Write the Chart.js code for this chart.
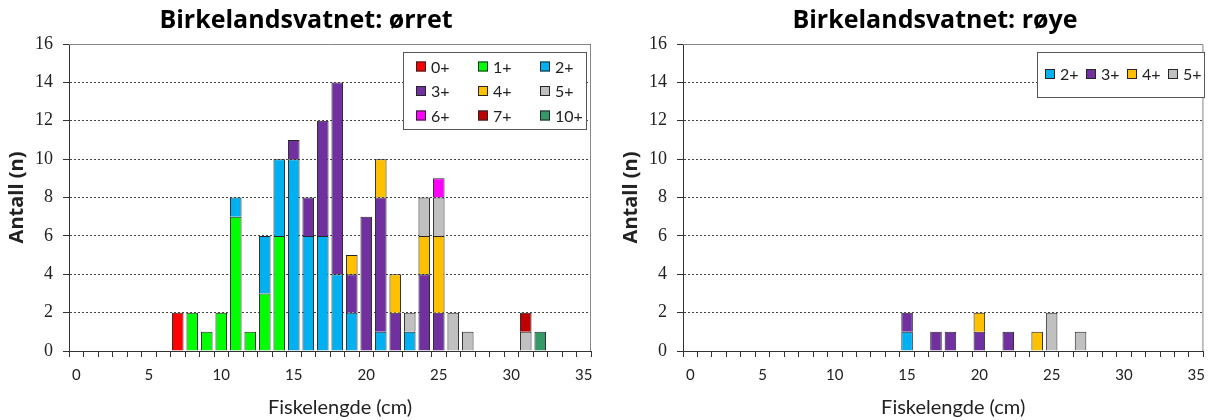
<!DOCTYPE html>
<html>
<head>
<meta charset="utf-8">
<script src="https://cdn.jsdelivr.net/npm/chart.js@4"></script>
<style>
  body { margin: 0; background: #fff; }
  #wrap { position: relative; width: 1214px; height: 420px; }
  canvas { position: absolute; top: 0; }
</style>
</head>
<body>
<div id="wrap">
  <canvas id="trout" width="607" height="420" style="left:0"></canvas>
  <canvas id="charr" width="600" height="420" style="left:614px"></canvas>
</div>
<script>
// length classes (cm) on the x axis
var lengths = [0, 1, 2, 3, 4, 5, 6, 7, 8, 9, 10, 11, 12, 13, 14, 15, 16, 17, 18, 19,
  20, 21, 22, 23, 24, 25, 26, 27, 28, 29, 30, 31, 32, 33, 34, 35];

// trout (ørret), count per length class for each age group
var troutAge0 = [0,0,0,0,0,0,0,2,0,0, 0,0,0,0,0,0,0,0,0,0, 0,0,0,0,0,0,0,0,0,0, 0,0,0,0,0,0];
var troutAge1 = [0,0,0,0,0,0,0,0,2,1, 2,7,1,3,6,0,0,0,0,0, 0,0,0,0,0,0,0,0,0,0, 0,0,0,0,0,0];
var troutAge2 = [0,0,0,0,0,0,0,0,0,0, 0,1,0,3,4,10,6,6,4,2, 0,1,0,1,0,0,0,0,0,0, 0,0,0,0,0,0];
var troutAge3 = [0,0,0,0,0,0,0,0,0,0, 0,0,0,0,0,1,2,6,10,2, 7,7,2,0,4,2,0,0,0,0, 0,0,0,0,0,0];
var troutAge4 = [0,0,0,0,0,0,0,0,0,0, 0,0,0,0,0,0,0,0,0,1, 0,2,2,0,2,4,0,0,0,0, 0,0,0,0,0,0];
var troutAge5 = [0,0,0,0,0,0,0,0,0,0, 0,0,0,0,0,0,0,0,0,0, 0,0,0,1,2,2,2,1,0,0, 0,1,0,0,0,0];
var troutAge6 = [0,0,0,0,0,0,0,0,0,0, 0,0,0,0,0,0,0,0,0,0, 0,0,0,0,0,1,0,0,0,0, 0,0,0,0,0,0];
var troutAge7 = [0,0,0,0,0,0,0,0,0,0, 0,0,0,0,0,0,0,0,0,0, 0,0,0,0,0,0,0,0,0,0, 0,1,0,0,0,0];
var troutAge10 = [0,0,0,0,0,0,0,0,0,0, 0,0,0,0,0,0,0,0,0,0, 0,0,0,0,0,0,0,0,0,0, 0,0,1,0,0,0];

// arctic charr (røye)
var charrAge2 = [0,0,0,0,0,0,0,0,0,0, 0,0,0,0,0,1,0,0,0,0, 0,0,0,0,0,0,0,0,0,0, 0,0,0,0,0,0];
var charrAge3 = [0,0,0,0,0,0,0,0,0,0, 0,0,0,0,0,1,0,1,1,0, 1,0,1,0,0,0,0,0,0,0, 0,0,0,0,0,0];
var charrAge4 = [0,0,0,0,0,0,0,0,0,0, 0,0,0,0,0,0,0,0,0,0, 1,0,0,0,1,0,0,0,0,0, 0,0,0,0,0,0];
var charrAge5 = [0,0,0,0,0,0,0,0,0,0, 0,0,0,0,0,0,0,0,0,0, 0,0,0,0,0,2,0,1,0,0, 0,0,0,0,0,0];

var ageColors = {
  '0+': '#ff0000', '1+': '#00ff00', '2+': '#00b0f0', '3+': '#7030a0', '4+': '#ffc000',
  '5+': '#c0c0c0', '6+': '#ff00ff', '7+': '#c00000', '10+': '#339966'
};

// draws the excel-like frame, the titles and the boxed legend
var excelFrame = {
  id: 'excelFrame',
  beforeDraw: function(chart) {
    var ctx = chart.ctx;
    ctx.save();
    ctx.fillStyle = '#fff';
    ctx.fillRect(0, 0, chart.width, chart.height);
    ctx.restore();
  },
  afterDraw: function(chart, args, opts) {
    var ctx = chart.ctx, a = chart.chartArea;
    ctx.save();
    ctx.strokeStyle = '#868686';
    ctx.lineWidth = 1;
    ctx.beginPath();
    ctx.moveTo(a.left, a.top + 0.5);
    ctx.lineTo(a.right - 0.5, a.top + 0.5);
    ctx.lineTo(a.right - 0.5, a.bottom);
    ctx.stroke();

    ctx.fillStyle = '#000';
    ctx.font = 'bold 25px "Open Sans"';
    ctx.textAlign = 'center';
    ctx.textBaseline = 'alphabetic';
    ctx.fillText(opts.title, opts.titleX, opts.titleY);

    // x axis title, sits a bit right of the axis centre in the original
    ctx.fillStyle = '#222';
    ctx.font = '20px Lato';
    ctx.textBaseline = 'middle';
    ctx.fillText('Fiskelengde (cm)', a.left + (a.right - a.left) / 2 + 10, 408);

    var lg = opts.legend;
    ctx.fillStyle = '#fff';
    ctx.fillRect(lg.x, lg.y, lg.w, lg.h);
    ctx.strokeStyle = '#555';
    ctx.strokeRect(lg.x + 0.5, lg.y + 0.5, lg.w, lg.h);
    ctx.font = '16px Lato';
    ctx.textAlign = 'left';
    ctx.textBaseline = 'middle';
    chart.data.datasets.forEach(function(ds, i) {
      var col = i % lg.cols, row = Math.floor(i / lg.cols);
      var sx = lg.x + lg.padX + col * lg.colW;
      var cy = lg.y + lg.padY + row * lg.rowH;
      ctx.fillStyle = ds.backgroundColor;
      ctx.fillRect(sx, cy - 5, 10, 10);
      ctx.strokeStyle = '#262626';
      ctx.strokeRect(sx + 0.5, cy - 4.5, 9, 9);
      ctx.fillStyle = '#222';
      ctx.fillText(ds.label, sx + 15, cy + 1);
    });
    ctx.restore();
  }
};

function makeChart(id, labels, series, frame, padRight) {
  return new Chart(document.getElementById(id), {
    type: 'bar',
    data: {
      labels: lengths,
      datasets: series.map(function(s, i) {
        return {
          label: labels[i],
          data: s.map(function(v) { return v === 0 ? null : v; }),
          backgroundColor: ageColors[labels[i]],
          borderColor: '#262626',
          borderWidth: 1,
          barPercentage: 0.8,
          categoryPercentage: 1
        };
      })
    },
    options: {
      responsive: false,
      animation: false,
      layout: { padding: { top: 44, right: padRight, left: 0, bottom: 0 } },
      plugins: {
        legend: { display: false },
        title: { display: false },
        tooltip: { enabled: false },
        excelFrame: frame
      },
      scales: {
        x: {
          stacked: true,
          grid: { drawOnChartArea: false, offset: true, tickLength: 6, tickColor: '#333' },
          border: { color: '#333', width: 1 },
          ticks: {
            autoSkip: false, maxRotation: 0, padding: 9, color: '#222',
            font: { family: 'Lato', size: 15 },
            callback: function(v, i) { return lengths[i] % 5 === 0 ? String(lengths[i]) : ''; }
          },
          afterFit: function(s) { s.height = 69; }
        },
        y: {
          stacked: true, min: 0, max: 16,
          grid: { color: '#444', tickLength: 6, tickColor: '#333' },
          border: { color: '#333', width: 1, dash: [2, 2] },
          ticks: {
            stepSize: 2, padding: 10, color: '#222',
            font: { family: 'Liberation Serif', size: 18 }
          },
          title: {
            display: true, text: 'Antall (n)', color: '#222',
            font: { family: 'Open Sans', size: 20, weight: 'bold' }, padding: { top: 5, bottom: 0 }
          },
          afterFit: function(s) { s.width = 69; }
        }
      }
    },
    plugins: [excelFrame]
  });
}

makeChart('trout', ['0+', '1+', '2+', '3+', '4+', '5+', '6+', '7+', '10+'],
  [troutAge0, troutAge1, troutAge2, troutAge3, troutAge4, troutAge5, troutAge6, troutAge7, troutAge10],
  {
    title: 'Birkelandsvatnet: ørret', titleX: 306, titleY: 28,
    legend: { x: 403, y: 52, w: 183, h: 77, cols: 3, colW: 62, rowH: 24.5, padX: 13, padY: 14.5 }
  }, 16);

makeChart('charr', ['2+', '3+', '4+', '5+'],
  [charrAge2, charrAge3, charrAge4, charrAge5],
  {
    title: 'Birkelandsvatnet: røye', titleX: 321, titleY: 28,
    legend: { x: 423, y: 52, w: 167, h: 45, cols: 4, colW: 41, rowH: 24, padX: 8, padY: 22 }
  }, 7);
</script>
</body>
</html>
